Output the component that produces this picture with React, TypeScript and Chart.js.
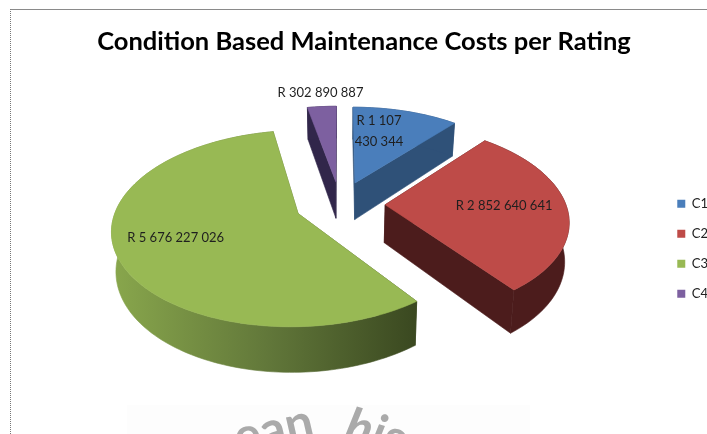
import React, { useEffect, useRef } from "react";
import { Chart, registerables } from "chart.js";

Chart.register(...registerables);

const titleText = "Condition Based Maintenance Costs per Rating";
const categories = ["C1", "C2", "C3", "C4"];
const costs = [1107430344, 2852640641, 5676227026, 302890887];
const costLabels = [["R 1 107", "430 344"], ["R 2 852 640 641"], ["R 5 676 227 026"], ["R 302 890 887"]];

const topColors = ["#4a7ebb", "#be4b48", "#98b954", "#7d60a0"];
const wallColors = ["#2f5178", "#4c1c1c", "#5e7434", "#31264a"];
const drawOrder = [0, 3, 1, 2];
const labelRadius = [0.48, 0.65, 0.72, 1.2];
const labelNudge = [[-2, -15], [1, -1], [6, -5], [1, -1]];

const CX = 340, CY = 204, AX = 180.5, AY = 93, K = 0.151, EXPLODE = 0.25, DEPTH = 38;

function project(x: number, y: number, low: boolean) {
  const d = 1 - K * y;
  const shrink = low ? 1.02 : 1;
  return [CX + (AX * x) / (d * shrink), CY + (AY * y + (low ? DEPTH : 0)) / d];
}

const fill = (ctx: any, pts: number[][], color: any) => {
  ctx.beginPath();
  pts.forEach((p, i) => (i ? ctx.lineTo(p[0], p[1]) : ctx.moveTo(p[0], p[1])));
  ctx.closePath();
  ctx.fillStyle = color;
  ctx.fill();
  ctx.lineWidth = 0.6;
  ctx.strokeStyle = color;
  ctx.stroke();
};

const watermark = {
  id: "watermark",
  beforeDraw(chart: any) {
    const { ctx } = chart;
    ctx.save();
    ctx.fillStyle = "#fdfdfd";
    ctx.fillRect(127, 405, 403, 29);
    ctx.fillStyle = "#aaaaaa";
    ctx.font = "bold 50px Lato";
    ctx.translate(238, 455);
    ctx.rotate((-13 * Math.PI) / 180);
    ctx.fillText("ean", 0, 0);
    ctx.restore();
    ctx.save();
    ctx.fillStyle = "#aaaaaa";
    ctx.font = "italic bold 50px Lato";
    ctx.translate(342, 441);
    ctx.rotate((15 * Math.PI) / 180);
    ctx.fillText("his", 0, 0);
    ctx.restore();
  },
};

const pie3d = {
  id: "pie3d",
  beforeDatasetDraw(chart: any) {
    const { ctx } = chart;
    const arcs = chart.getDatasetMeta(0).data;
    ctx.save();
    drawOrder.forEach((i) => {
      const { startAngle, endAngle } = arcs[i];
      const mid = (startAngle + endAngle) / 2;
      const ox = EXPLODE * Math.cos(mid), oy = EXPLODE * Math.sin(mid);
      const rim = (low: boolean) => {
        const n = Math.max(4, Math.ceil((endAngle - startAngle) * 40));
        const out: number[][] = [];
        for (let s = 0; s <= n; s++) {
          const a = startAngle + ((endAngle - startAngle) * s) / n;
          out.push(project(ox + Math.cos(a), oy + Math.sin(a), low));
        }
        return out;
      };
      const top = rim(false), low = rim(true);
      const apexTop = project(ox, oy, false), apexLow = project(ox, oy, true);
      let wall: any = wallColors[i];
      if (i === 2) {
        const g = ctx.createLinearGradient(115, 0, 417, 0);
        g.addColorStop(0, "#88a64c");
        g.addColorStop(0.5, "#62783a");
        g.addColorStop(1, "#3a4820");
        wall = g;
      }
      fill(ctx, [apexTop, top[0], low[0], apexLow], wall);
      fill(ctx, [apexTop, top[top.length - 1], low[low.length - 1], apexLow], wall);
      fill(ctx, [...top, ...low.slice().reverse()], wall);
      fill(ctx, [apexTop, ...top], topColors[i]);
    });
    ctx.restore();
    return false;
  },
  afterDatasetsDraw(chart: any) {
    const { ctx } = chart;
    const arcs = chart.getDatasetMeta(0).data;
    ctx.save();
    ctx.font = "13px Lato";
    ctx.fillStyle = "#1f1f1f";
    ctx.textAlign = "center";
    ctx.textBaseline = "middle";
    arcs.forEach((arc: any, i: number) => {
      const mid = (arc.startAngle + arc.endAngle) / 2;
      const r = EXPLODE + labelRadius[i];
      const p = project(r * Math.cos(mid), r * Math.sin(mid), false);
      const lines = costLabels[i];
      lines.forEach((line, j) => {
        ctx.fillText(line, p[0] + labelNudge[i][0], p[1] + labelNudge[i][1] + (j - (lines.length - 1) / 2) * 21);
      });
    });
    ctx.restore();
  },
};

export default function App() {
  const ref = useRef<HTMLCanvasElement>(null);
  useEffect(() => {
    const chart = new Chart(ref.current!, {
      type: "pie",
      data: {
        labels: categories,
        datasets: [{ data: costs, backgroundColor: topColors, borderWidth: 0 }],
      },
      options: {
        responsive: false,
        animation: false,
        layout: { padding: { left: 10, right: -11, top: 0, bottom: 0 } },
        plugins: {
          title: {
            display: true,
            text: titleText,
            color: "#000",
            font: { family: "Lato", size: 25.5, weight: "bold" },
            padding: { top: 26, bottom: 7 },
          },
          legend: {
            position: "right",
            fullSize: false,
            labels: {
              boxWidth: 8,
              boxHeight: 8,
              padding: 17,
              color: "#222",
              font: { family: "Lato", size: 13 },
            },
          },
          tooltip: { enabled: false },
        },
      },
      plugins: [watermark, pie3d],
    } as any);
    return () => chart.destroy();
  }, []);

  return (
    <div style={{ position: "fixed", inset: 0, width: 707, height: 434, overflow: "hidden", background: "#fff" }}>
      <canvas ref={ref} width={707} height={434} style={{ display: "block", filter: "blur(0.4px)" }} />
      <div style={{ position: "absolute", left: 10, top: 9, right: 0, bottom: 0, borderTop: "1px solid #8a8a8a", borderLeft: "1px dotted #777" }} />
    </div>
  );
}
